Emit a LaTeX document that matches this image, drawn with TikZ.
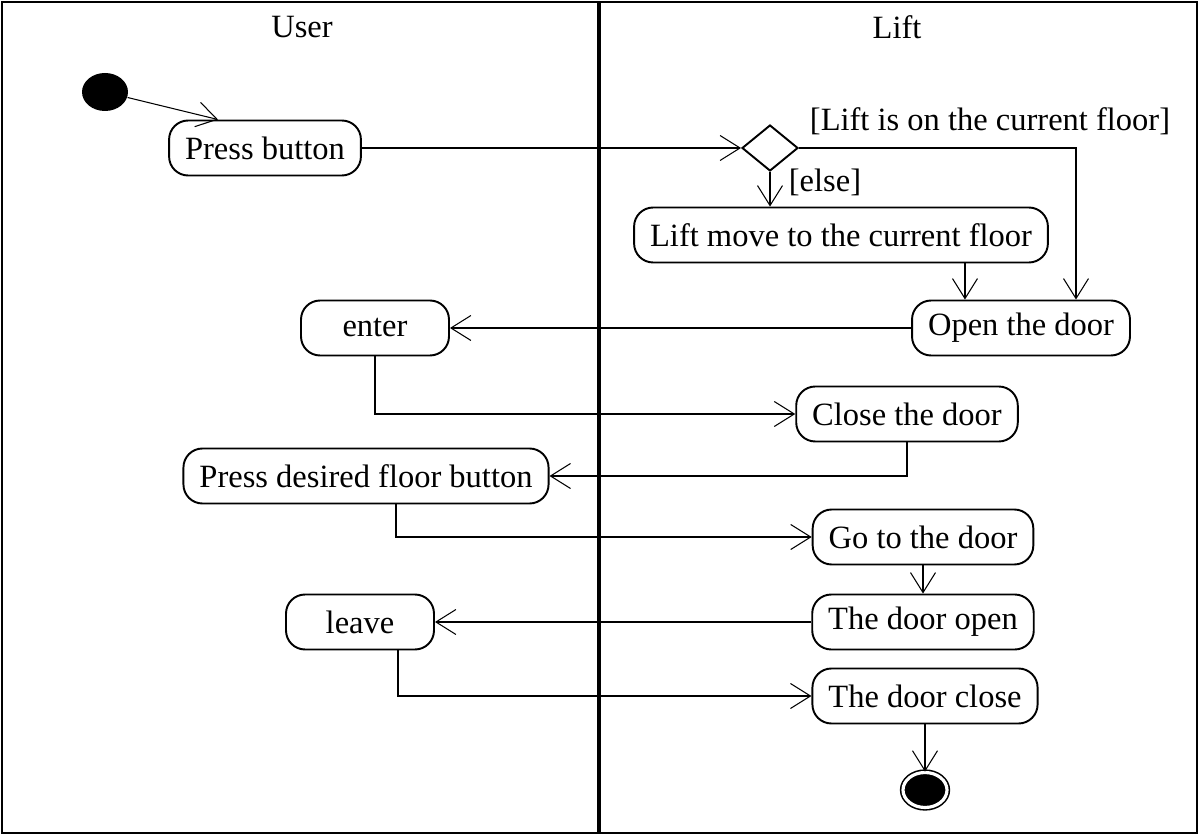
\documentclass[tikz,border=0pt]{standalone}
\usepackage{fontspec}
\setmainfont{Liberation Serif}
\usetikzlibrary{arrows.meta, positioning, shapes.geometric}

\begin{document}
\begin{tikzpicture}[->, >={Straight Barb[length=0.4cm, width=0.5cm]}, line width=0.6pt,
    x=0.02cm, y=-0.02cm, font=\fontsize{18.5pt}{22pt}\selectfont]
    \tikzstyle{state} = [draw, line width=1.1pt, rounded corners=0.38cm, minimum height=1.1cm, inner xsep=0.32cm, text centered]
    \tikzstyle{lane} = [-, line width=1.1pt]
    \useasboundingbox (0,0) rectangle (1200,837);
    \draw[lane] (2,2) rectangle (1197,833);
    \draw[lane, line width=2.3pt] (599,2) -- (599,833);
    \node (u) at (302,27) {User};
    \node (l) at (897,27) {Lift};
    \node [ellipse, fill=black, minimum width=0.92cm, minimum height=0.76cm, inner sep=0pt] at (105,92) (0) {};
    \node [state] at (265,148) (1) {Press button};
    \node [diamond, draw, line width=1.1pt, minimum width=1.12cm, minimum height=0.92cm, inner sep=0pt] at (770,148) (d) {};
    \node at (990,121) (g1) {[Lift is on the current floor]};
    \node at (825,182) (g2) {[else]};
    \node [state] at (841,235) (2) {Lift move to the current floor};
    \node [state] at (1021,328) (3) {Open the door};
    \node [state, minimum width=2.96cm] at (375,328) (4) {enter};
    \node [state] at (907,414) (5) {Close the door};
    \node [state] at (366,476) (6) {Press desired floor button};
    \node [state] at (923,537) (7) {Go to the door};
    \node [state] at (923,622) (8) {The door open};
    \node [state, minimum width=2.96cm] at (360,622) (9) {leave};
    \node [state] at (925,696) (10) {The door close};
    \node [ellipse, draw, fill=black, double=white, double distance=1.8pt, line width=0.9pt, minimum width=0.88cm, minimum height=0.7cm, inner sep=0pt] at (925,790) (11) {};
    \draw (0) -- ([xshift=-0.94cm]1.north);
    \draw (1.east) -- (d.west);
    \draw (d.south) -- (d.south |- 2.north);
    \draw (d.east) -| ([xshift=1.1cm]3.north);
    \draw ([xshift=2.48cm]2.south) -- ([xshift=2.48cm]2.south |- 3.north);
    \draw (3.west) -- (4.east);
    \draw (4.south) |- (5.west);
    \draw (5.south) |- (6.east);
    \draw ([xshift=0.6cm]6.south) |- (7.west);
    \draw (7.south) -- (8.north);
    \draw (8.west) -- (9.east);
    \draw ([xshift=0.76cm]9.south) |- (10.west);
    \draw (10.south) -- (11);
\end{tikzpicture}
\end{document}
